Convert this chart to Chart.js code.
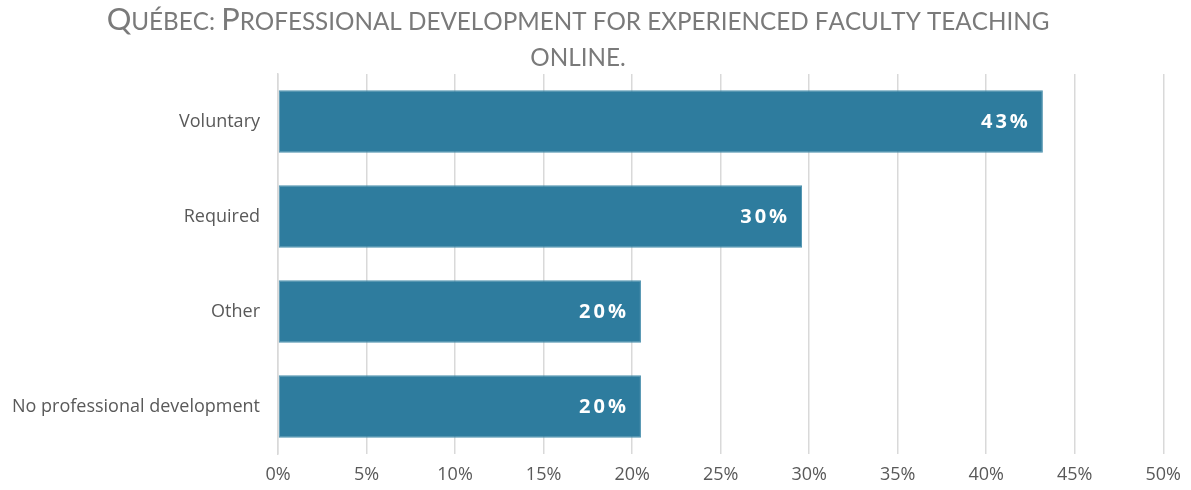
<!DOCTYPE html>
<html>
<head>
<meta charset="utf-8">
<script src="https://cdn.jsdelivr.net/npm/chart.js@4/dist/chart.umd.min.js"></script>
<style>
html,body{margin:0;padding:0;background:#fff;}
#wrap{width:1191px;height:490px;}
</style>
</head>
<body>
<div id="wrap"><canvas id="c" width="1191" height="490"></canvas></div>
<script>
const categories = ["Voluntary", "Required", "Other", "No professional development"];
const values = [43.2, 29.6, 20.5, 20.5];
const valueLabels = ["43%", "30%", "20%", "20%"];
const titleLines = ["Québec: Professional development for experienced faculty teaching", "online."];

const FONT = "'Open Sans', Lato, sans-serif";
const TFONT = "Lato, 'Open Sans', sans-serif";

// Title drawn in small caps
const smallCapsTitle = {
  id: 'smallCapsTitle',
  afterDraw(chart) {
    const ctx = chart.ctx;
    const cx = 578;
    const baselines = [30, 66];
    const targetW = 943;
    const isLower = ch => ch !== ch.toUpperCase() || /[\s.:,]/.test(ch);
    function runs(text, s) {
      const big = s * 1.27;
      return Array.from(text).map(ch => {
        const small = isLower(ch);
        return { t: ch.toUpperCase(), size: small ? s : big };
      });
    }
    function width(rs) {
      let w = 0;
      rs.forEach(r => { ctx.font = r.size + 'px ' + TFONT; w += ctx.measureText(r.t).width; });
      return w;
    }
    ctx.save();
    const w0 = width(runs(titleLines[0], 20));
    const s = 20 * targetW / w0;
    ctx.fillStyle = '#7a7a7a';
    ctx.textBaseline = 'alphabetic';
    ctx.textAlign = 'left';
    titleLines.forEach((line, i) => {
      const rs = runs(line, s);
      let x = cx - width(rs) / 2;
      rs.forEach(r => {
        ctx.font = r.size + 'px ' + TFONT;
        ctx.fillText(r.t, x, baselines[i]);
        x += ctx.measureText(r.t).width;
      });
    });
    ctx.restore();
  }
};

const barLabels = {
  id: 'barLabels',
  afterDatasetsDraw(chart) {
    const ctx = chart.ctx;
    const meta = chart.getDatasetMeta(0);
    ctx.save();
    ctx.fillStyle = '#ffffff';
    ctx.font = "bold 20px " + FONT;
    ctx.letterSpacing = '3px';
    ctx.textAlign = 'right';
    ctx.textBaseline = 'middle';
    meta.data.forEach((bar, i) => {
      ctx.fillText(valueLabels[i], bar.x - 12, bar.y + 1);
    });
    ctx.restore();
  }
};

new Chart(document.getElementById('c'), {
  type: 'bar',
  data: {
    labels: categories,
    datasets: [{
      data: values,
      backgroundColor: '#2E7C9E',
      borderColor: '#4C91AE',
      borderWidth: 1,
      borderSkipped: false,
      categoryPercentage: 0.66,
      barPercentage: 1.0
    }]
  },
  options: {
    indexAxis: 'y',
    responsive: false,
    animation: false,
    layout: { padding: { left: 0, right: 25, top: 74, bottom: 0 } },
    plugins: {
      legend: { display: false },
      tooltip: { enabled: false },
      title: { display: false }
    },
    scales: {
      x: {
        min: 0, max: 50,
        ticks: {
          stepSize: 5,
          color: '#595959',
          font: { family: FONT, size: 18 },
          padding: 10,
          callback: v => v + '%'
        },
        grid: { color: '#D9D9D9', lineWidth: 1.5, drawTicks: false },
        border: { display: false },
        afterFit: s => { s.height = 36; }
      },
      y: {
        ticks: {
          color: '#595959',
          font: { family: FONT, size: 18 },
          padding: 18
        },
        grid: { display: false, drawTicks: false },
        border: { display: true, color: '#D9D9D9', width: 1.5 },
        afterFit: s => { s.width = 278; }
      }
    }
  },
  plugins: [barLabels, smallCapsTitle]
});
</script>
</body>
</html>
